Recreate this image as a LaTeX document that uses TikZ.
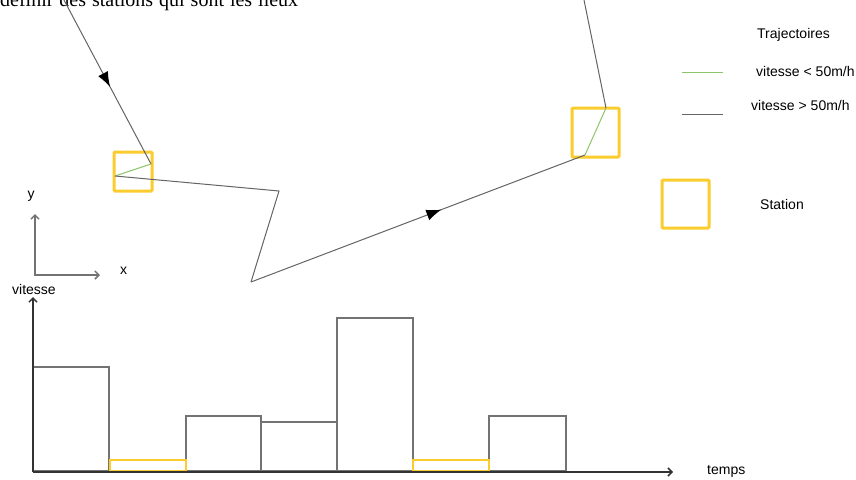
\documentclass[tikz,border=0pt]{standalone}
\usepackage{fontspec}
\setmainfont{Liberation Serif}
\newfontfamily\legendfont{Liberation Sans}
\usetikzlibrary{arrows.meta,decorations.markings}

\definecolor{stationyellow}{RGB}{250,204,46}
\definecolor{slowgreen}{RGB}{140,196,106}
\definecolor{fastgray}{RGB}{100,100,100}

\tikzset{
  traj/.style={fastgray,line width=1pt},
  slow/.style={slowgreen,line width=1pt},
  station/.style={draw=stationyellow,line width=3pt,rounded corners=1pt,inner sep=0pt},
  bar/.style={draw=black!55,line width=1.5pt},
  axis/.style={draw=black!80,line width=1.5pt},
  lbl/.style={font=\legendfont\fontsize{14}{16}\selectfont,inner sep=0pt},
  midarrow/.style={postaction=decorate,decoration={markings,mark=at position #1 with {\arrow[black]{Latex[length=15pt,width=11pt]}}}}
}

\begin{document}
\begin{tikzpicture}[x=1pt,y=-1pt]
  \useasboundingbox (0,0) rectangle (856,479);
  \node[anchor=base west,inner sep=0pt] (titre) at (0,6) {\fontsize{20}{24}\selectfont\makebox[298pt][s]{définir des stations qui sont les lieux}};

  \node[station,minimum width=38pt,minimum height=39pt] (st1) at (133,171.5) {};
  \node[station,minimum width=47pt,minimum height=49pt] (st2) at (595.5,132.5) {};

  \coordinate (t0) at (64,0);
  \coordinate (t1) at (151,164);
  \coordinate (t2) at (115,176);
  \coordinate (t3) at (279,191);
  \coordinate (t4) at (251,282);
  \coordinate (t5) at (585,155);
  \coordinate (t6) at (606,108);
  \coordinate (t7) at (584,0);
  \draw[traj,midarrow=0.53] (t0) -- (t1);
  \draw[slow] (t1) -- (t2);
  \draw[traj] (t2) -- (t3) -- (t4);
  \draw[traj,midarrow=0.57] (t4) -- (t5);
  \draw[slow] (t5) -- (t6);
  \draw[traj] (t6) -- (t7);

  \node[lbl,anchor=base west] (traj) at (757,38) {Trajectoires};
  \coordinate (g0) at (682,72);
  \coordinate (g1) at (723,72);
  \draw[slow] (g0) -- (g1);
  \node[lbl,anchor=base west] (lent) at (756,76) {vitesse < 50m/h};
  \coordinate (n0) at (682,114);
  \coordinate (n1) at (723,114);
  \draw[traj] (n0) -- (n1);
  \node[lbl,anchor=base west] (rapide) at (751,110) {vitesse > 50m/h};
  \node[station,minimum width=47pt,minimum height=48pt] (stleg) at (685.5,204) {};
  \node[lbl,anchor=base west] (station) at (760,209) {Station};

  \coordinate (o) at (35,275);
  \coordinate (oy) at (35,214);
  \coordinate (ox) at (100,275);
  \draw[axis,draw=black!55,{Straight Barb[length=4pt]}-{Straight Barb[length=4pt]}] (oy) -- (o) -- (ox);
  \node[lbl,anchor=base] (ylab) at (31,198) {y};
  \node[lbl,anchor=base] (xlab) at (123.5,274) {x};

  \foreach \a/\b/\h in {33/109/367,186/261/416,261/337/422,337/413/318,489/566/416}
    \draw[bar] (\a,471) rectangle (\b,\h);
  \foreach \a/\b in {110/186,413/489}
    \draw[bar,draw=stationyellow] (\a,471) rectangle (\b,460);

  \coordinate (v0) at (33,472);
  \coordinate (vy) at (33,297);
  \coordinate (vx) at (673,472);
  \draw[axis,-{Straight Barb[length=4pt]}] (v0) -- (vy);
  \draw[axis,-{Straight Barb[length=4pt]}] (v0) -- (vx);
  \node[lbl,anchor=base] (vitesse) at (34,294) {vitesse};
  \node[lbl,anchor=base west] (temps) at (707,474.5) {temps};
\end{tikzpicture}
\end{document}
